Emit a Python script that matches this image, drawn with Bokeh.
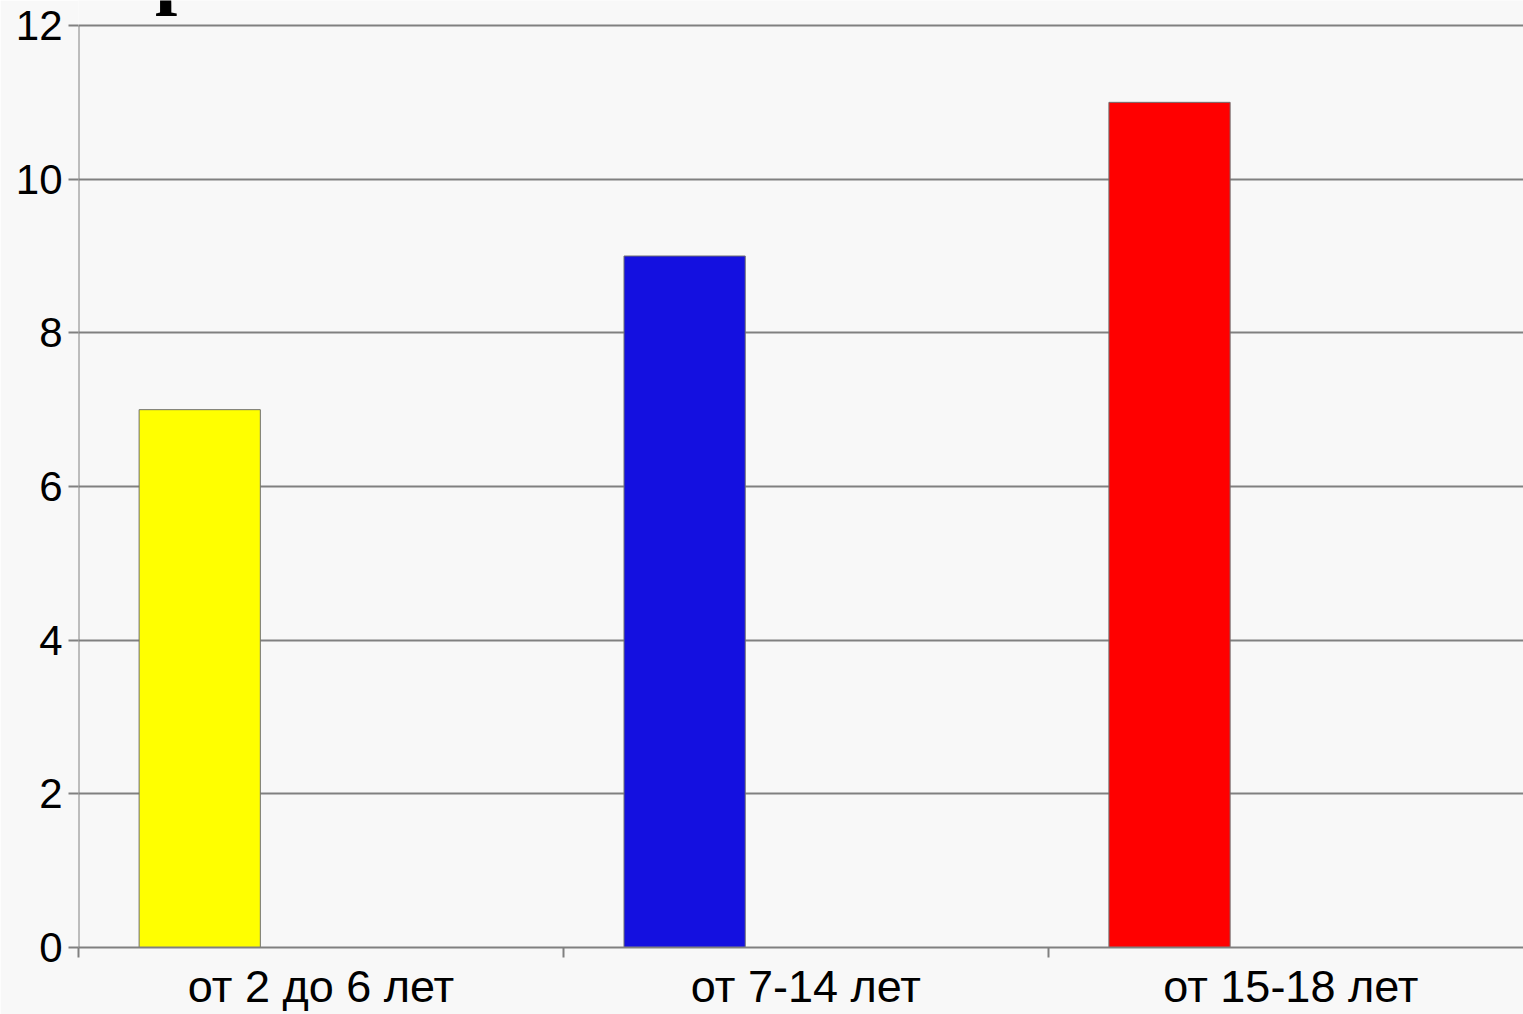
from bokeh.plotting import figure
from bokeh.models import Range1d, FixedTicker, Label
from bokeh.embed import file_html
from bokeh.resources import INLINE

# Age groups and counts
categories = ["от 2 до 6 лет", "от 7-14 лет", "от 15-18 лет"]
values = [7, 9, 11]
colors = ["#ffff00", "#1410e0", "#ff0000"]
y_ticks = [0, 2, 4, 6, 8, 10, 12]
y_max = 12

BG = "#f8f8f8"
GRID = "#808080"

# the frame runs up to the top edge; a little headroom above 12 keeps the
# top grid line 25px below the edge
FRAME_H = 947
TOP_GAP = 25
y_top = y_max * FRAME_H / (FRAME_H - TOP_GAP)

p = figure(
    width=1523, height=1014,
    x_range=Range1d(0, 2.98), y_range=Range1d(0, y_top),
    output_backend="svg", toolbar_location=None,
    min_border_left=78, min_border_right=0,
    min_border_top=0, min_border_bottom=67,
    background_fill_color=BG, border_fill_color=BG,
    outline_line_color=None,
)

# bars sit in the left half of each category slot
centers = [i + 0.5 for i in range(len(categories))]
bar_x = [i + 0.25 for i in range(len(categories))]
p.vbar(x=bar_x, top=values, width=0.25, bottom=0,
       fill_color=colors, line_color="#707070", line_width=1)

# y axis: the value axis line stops at the top tick
p.yaxis.ticker = FixedTicker(ticks=y_ticks)
p.yaxis.axis_line_color = None
p.segment(x0=[0], y0=[0], x1=[0], y1=[y_max], line_color=GRID, line_width=2)
p.yaxis.major_tick_line_color = GRID
p.yaxis.major_tick_line_width = 2
p.yaxis.major_tick_in = 0
p.yaxis.major_tick_out = 10
p.yaxis.minor_tick_line_color = None
p.yaxis.major_label_standoff = 6
p.yaxis.major_label_text_font = "Liberation Sans"
p.yaxis.major_label_text_font_size = "42px"
p.yaxis.major_label_text_color = "#000000"

# x axis: labels at slot centers, tick marks at slot boundaries
p.xaxis.ticker = FixedTicker(ticks=centers, minor_ticks=[0, 1, 2, 3])
p.xaxis.major_label_overrides = {c: lab for c, lab in zip(centers, categories)}
p.xaxis.axis_line_color = GRID
p.xaxis.axis_line_width = 2
p.xaxis.major_tick_line_color = None
p.xaxis.minor_tick_line_color = GRID
p.xaxis.minor_tick_line_width = 2
p.xaxis.minor_tick_in = 0
p.xaxis.minor_tick_out = 10
p.xaxis.major_label_standoff = 3
p.xaxis.major_label_text_font = "Liberation Sans"
p.xaxis.major_label_text_font_size = "45px"
p.xaxis.major_label_text_color = "#000000"

p.xgrid.grid_line_color = None
p.ygrid.ticker = FixedTicker(ticks=y_ticks)
p.ygrid.grid_line_color = GRID
p.ygrid.grid_line_width = 2

# heading above the chart, mostly beyond the top edge of the page
px_per_unit = (FRAME_H - TOP_GAP) / y_max
p.add_layout(Label(
    x=0.158, y=y_top + 29 / px_per_unit,
    text="р", text_font="Liberation Serif", text_font_style="bold",
    text_font_size="80px", text_color="#000000", text_baseline="alphabetic",
))

open("out.html", "w").write(file_html(p, INLINE))
